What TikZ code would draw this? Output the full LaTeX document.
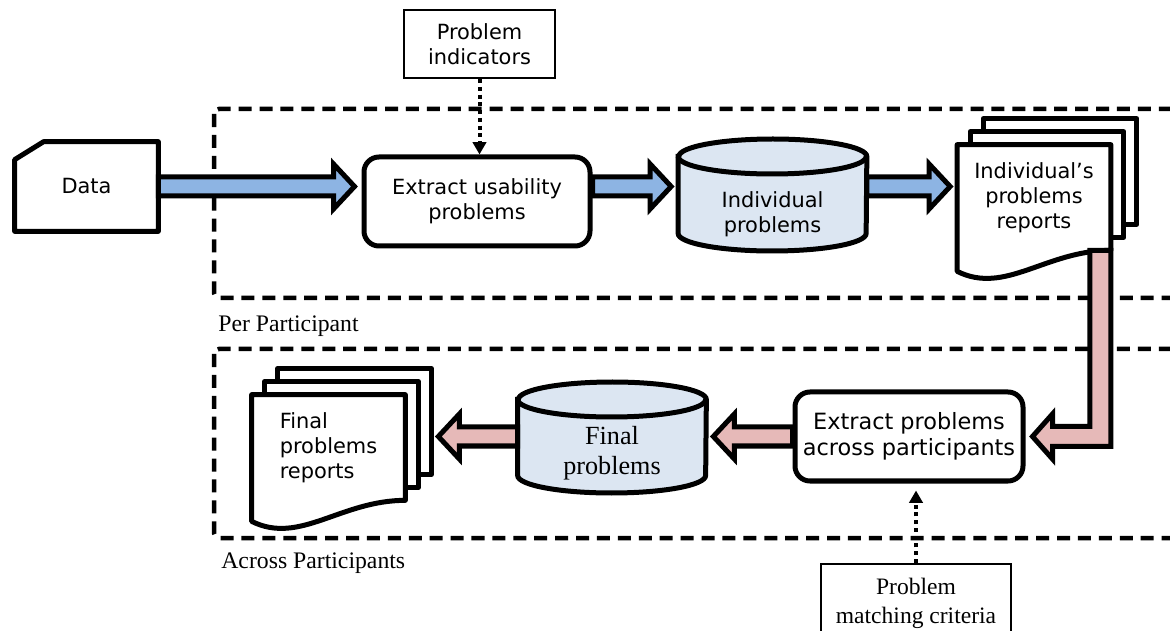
\documentclass[tikz,border=0pt]{standalone}
\usepackage{fontspec}
\setmainfont{Liberation Serif}
\newfontfamily\sansfont{DejaVu Sans}
\usetikzlibrary{positioning,calc,arrows.meta,backgrounds}

\definecolor{flowblue}{RGB}{141,180,227}
\definecolor{flowpink}{RGB}{230,185,184}
\definecolor{drumblue}{RGB}{220,230,242}

\newcommand{\sanstext}{\sansfont\fontsize{11.9}{14.2}\selectfont}

\tikzset{
  flow/.style={draw,line width=0.1cm,line join=miter},
  region/.style={line width=0.09cm,dash pattern=on 7.4pt off 4.5pt,rounded corners=0.1cm},
  hint/.style={line width=0.08cm,dash pattern=on 2.2pt off 2.2pt,-{Triangle[width=7.5pt,length=7pt]}},
  card/.style={line width=0.1cm,line join=round},
  proc/.style={draw,line width=0.1cm,rounded corners=0.3cm,minimum height=1.78cm,align=center,font=\sanstext},
  infobox/.style={draw,line width=0.05cm,align=center},
  page/.style={draw,fill=white,line width=0.1cm,line join=round},
  drum/.style={draw,fill=drumblue,line width=0.1cm},
  doctext/.style={minimum width=3.06cm,minimum height=2.1cm,inner sep=0pt,font=\sanstext},
  drumtext/.style={minimum width=3.76cm,inner sep=0pt,align=center},
  caption/.style={anchor=base west,inner sep=0pt,font=\fontsize{13.5}{16}\selectfont}
}

% stack of three pages behind a node, the front one with a wavy foot
\newcommand{\docstack}[1]{%
  \begin{scope}[on background layer]
    \foreach \sh in {0.52,0.26}
      \draw[page] ($(#1.north west)+(\sh,\sh)$) rectangle ($(#1.south east)+(\sh,\sh)$);
    \draw[page] (#1.south east) -- (#1.north east) -- (#1.north west) -- ($(#1.south west)+(0,-0.42)$)
      .. controls ($(#1.south west)+(0.96,-0.9)$) and ($(#1.south east)+(-1.3,0)$) .. (#1.south east) -- cycle;
  \end{scope}
  \coordinate (#1-back) at ($(#1.east)+(0.52,0)$);}

% cylinder round a text node: rise of the top cap, drop of the bottom cap
\newcommand{\drum}[3]{%
  \begin{scope}[on background layer]
    \draw[drum] ($(#1.west)+(0,#2)$) -- ($(#1.west)+(0,-#3)$)
      arc[start angle=180,end angle=360,x radius=1.88,y radius=0.35]
      -- ($(#1.east)+(0,#2)$)
      arc[start angle=0,end angle=180,x radius=1.88,y radius=0.35] -- cycle;
    \draw[drum,fill=none] ($(#1.west)+(0,#2)$) arc[start angle=180,end angle=360,x radius=1.88,y radius=0.35];
  \end{scope}}

% thick outlined arrow: fill, from, to
\newcommand{\blockarrow}[3]{%
  \path #2 coordinate (ba-from) #3 coordinate (ba-to);
  \path ($(ba-to)!0.14cm!(ba-from)$) coordinate (ba-tip)
        ($(ba-tip)!0.42cm!(ba-from)$) coordinate (ba-neck);
  \draw[flow,fill=#1] ($(ba-from)!0.19cm!90:(ba-tip)$) -- ($(ba-neck)!0.19cm!90:(ba-tip)$)
    -- ($(ba-neck)!0.45cm!90:(ba-tip)$) -- (ba-tip) -- ($(ba-neck)!0.45cm!-90:(ba-tip)$)
    -- ($(ba-neck)!0.19cm!-90:(ba-tip)$) -- ($(ba-from)!0.19cm!-90:(ba-tip)$) -- cycle;}

\begin{document}
\begin{tikzpicture}
  \useasboundingbox (0,0) rectangle (23.4,-12.62);
  \clip (0,0) rectangle (23.4,-12.62);

  % the two stages
  \draw[region] (4.28,-2.18) rectangle (24,-5.96);
  \draw[region] (4.28,-6.98) rectangle (24,-10.76);
  \node[caption] (perlbl) at (4.36,-6.64) {Per Participant};
  \node[caption] (acrosslbl) at (4.42,-11.36) {Across Participants};

  % per participant
  \node[minimum width=2.86cm,minimum height=1.78cm,font=\sanstext] (data) at (1.73,-3.73) {Data};
  \draw[card] ($(data.north west)+(0,-0.36)$) -- ($(data.north west)+(0.58,0)$) -- (data.north east)
    -- (data.south east) -- (data.south west) -- cycle;
  \node[infobox,minimum width=3.02cm,minimum height=1.36cm,font=\sanstext] (pind) at (9.59,-0.88) {Problem\\indicators};
  \node[proc,minimum width=4.52cm] (ext) at (9.54,-4.03) {Extract usability\\problems};
  \node[drumtext,font=\sanstext] (ind) at (15.45,-4.29) {Individual\\problems};
  \drum{ind}{1.16}{0.38}
  \node[doctext,align=center] (irep) at (20.68,-3.95) {Individual’s\\problems\\reports};
  \docstack{irep}

  % across participants
  \node[proc,minimum width=4.56cm,font=\sansfont\fontsize{12.75}{14.8}\selectfont] (exa) at (18.18,-8.73) {Extract problems\\across participants};
  \node[infobox,minimum width=3.8cm,minimum height=1.56cm,font=\fontsize{13.4}{16.4}\selectfont] (pmc) at (18.32,-12.06) {Problem\\matching criteria};
  \node[drumtext,font=\fontsize{14.9}{17}\selectfont] (fin) at (12.24,-9.06) {Final\\problems};
  \drum{fin}{1.07}{0.45}
  \node[doctext,align=left] (frep) at (6.57,-8.95) {Final\\problems\\reports};
  \docstack{frep}

  % connectors
  \draw[hint] (pind.south) -- (pind.south |- ext.north);
  \draw[hint,shorten >=0.14cm] (pmc.north) -- (pmc.north |- exa.south);
  \blockarrow{flowblue}{(data.east)}{(data.east -| ext.west)}
  \blockarrow{flowblue}{(ext.east |- data)}{(ind.west |- data)}
  \blockarrow{flowblue}{(ind.east |- data)}{(irep.west |- data)}
  \draw[flow,fill=flowpink] let \p1=(irep.south east), \p2=(exa.east) in
    (\x1-0.42cm,\y1) -- (\x1,\y1) -- (\x1,\y2-0.2cm) -- (\x2+0.54cm,\y2-0.2cm) -- (\x2+0.54cm,\y2-0.45cm)
    -- (\x2+0.14cm,\y2) -- (\x2+0.54cm,\y2+0.45cm) -- (\x2+0.54cm,\y2+0.2cm) -- (\x1-0.42cm,\y2+0.2cm) -- cycle;
  \blockarrow{flowpink}{(exa.west)}{(exa.west -| fin.east)}
  \blockarrow{flowpink}{(fin.west |- exa)}{(frep-back |- exa)}
\end{tikzpicture}
\end{document}
